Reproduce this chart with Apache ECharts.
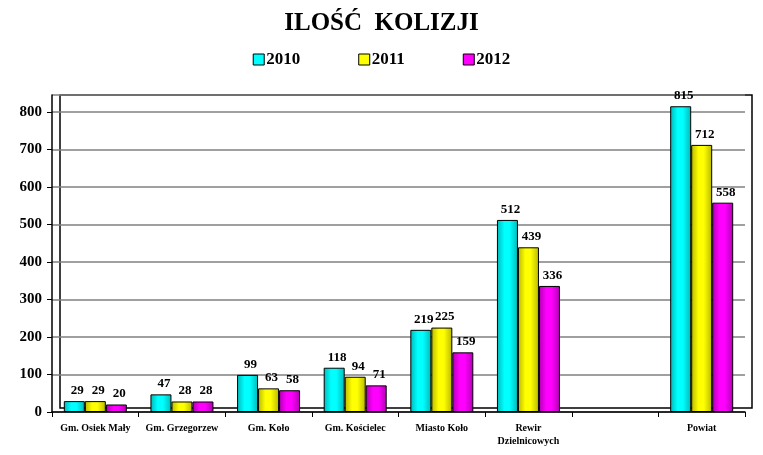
<!DOCTYPE html>
<html>
<head>
<meta charset="utf-8">
<script src="https://cdn.jsdelivr.net/npm/echarts@6/dist/echarts.min.js"></script>
<style>
  html, body { margin: 0; padding: 0; background: #fff; }
  #chart { width: 763px; height: 455px; }
</style>
</head>
<body>
<div id="chart"></div>
<script>
// data
const categories = ['Gm. Osiek Mały', 'Gm. Grzegorzew', 'Gm. Koło', 'Gm. Kościelec', 'Miasto Koło', 'Rewir\nDzielnicowych', '', 'Powiat'];
const years = ['2010', '2011', '2012'];
const values2010 = [29, 47, 99, 118, 219, 512, null, 815];
const values2011 = [29, 28, 63, 94, 225, 439, null, 712];
const values2012 = [20, 28, 58, 71, 159, 336, null, 558];
const yTicks = [0, 100, 200, 300, 400, 500, 600, 700, 800];
const yTop = 845; // back wall reaches a bit above the last tick

const font = 'Liberation Serif';

// cylinder-ish shading per colour
const shade = (dark, light) => ({
    type: 'linear', x: 0, y: 0, x2: 1, y2: 0,
    colorStops: [
        { offset: 0, color: dark },
        { offset: 0.35, color: light },
        { offset: 0.6, color: light },
        { offset: 1, color: dark }
    ]
});
const fills = [
    shade('#00b8b8', '#00ffff'),
    shade('#b8b800', '#ffff00'),
    shade('#b000b0', '#ff00ff')
];
const legendColors = ['#00ffff', '#ffff00', '#ff00ff'];

const makeSeries = (name, data, i) => ({
    name,
    type: 'bar',
    data,
    barWidth: 21,
    barGap: '0%',
    itemStyle: { color: fills[i], borderColor: '#000', borderWidth: 1 },
    label: {
        show: true,
        position: 'top',
        distance: 4,
        offset: [3, 0],
        fontFamily: font,
        fontWeight: 'bold',
        fontSize: 13,
        color: '#000'
    }
});

const chart = echarts.init(document.getElementById('chart'));
chart.setOption({
    animation: false,
    backgroundColor: '#fff',
    title: {
        text: 'ILOŚĆ  KOLIZJI',
        left: 'center',
        top: 6,
        textStyle: { fontFamily: font, fontWeight: 'bold', fontSize: 25, color: '#000' }
    },
    legend: {
        top: 46,
        left: 'center',
        itemGap: 58,
        itemWidth: 11,
        itemHeight: 11,
        icon: 'rect',
        data: years.map((y, i) => ({
            name: y,
            itemStyle: { color: legendColors[i], borderColor: '#000', borderWidth: 1 }
        })),
        textStyle: { fontFamily: font, fontWeight: 'bold', fontSize: 17, color: '#000', padding: [0, 0, 0, -3] }
    },
    grid: { left: 52, right: 18, top: 95, bottom: 43, containLabel: false },
    graphic: [{
        type: 'rect',
        shape: { x: 60, y: 95, width: 692, height: 313 },
        style: { fill: 'none', stroke: '#000', lineWidth: 1.5 },
        z: 0
    }],
    xAxis: {
        type: 'category',
        data: categories,
        axisLine: { lineStyle: { color: '#000', width: 1.5 } },
        axisTick: { show: true, length: 5, lineStyle: { color: '#000' } },
        axisLabel: {
            interval: 0,
            fontFamily: font,
            fontWeight: 'bold',
            fontSize: 10,
            color: '#000',
            margin: 10,
            lineHeight: 13
        }
    },
    yAxis: {
        type: 'value',
        min: yTicks[0],
        max: yTop,
        interval: 100,
        axisLine: { show: true, lineStyle: { color: '#000', width: 1.5 } },
        axisTick: { show: true, length: 5, lineStyle: { color: '#000' } },
        splitLine: { lineStyle: { color: '#808080', width: 1.5 } },
        axisLabel: {
            showMaxLabel: false,
            formatter: (v) => (yTicks.includes(v) ? String(v) : ''),
            fontFamily: font,
            fontWeight: 'bold',
            fontSize: 15,
            color: '#000',
            margin: 10
        }
    },
    series: [
        makeSeries(years[0], values2010, 0),
        makeSeries(years[1], values2011, 1),
        makeSeries(years[2], values2012, 2)
    ]
});
</script>
</body>
</html>
